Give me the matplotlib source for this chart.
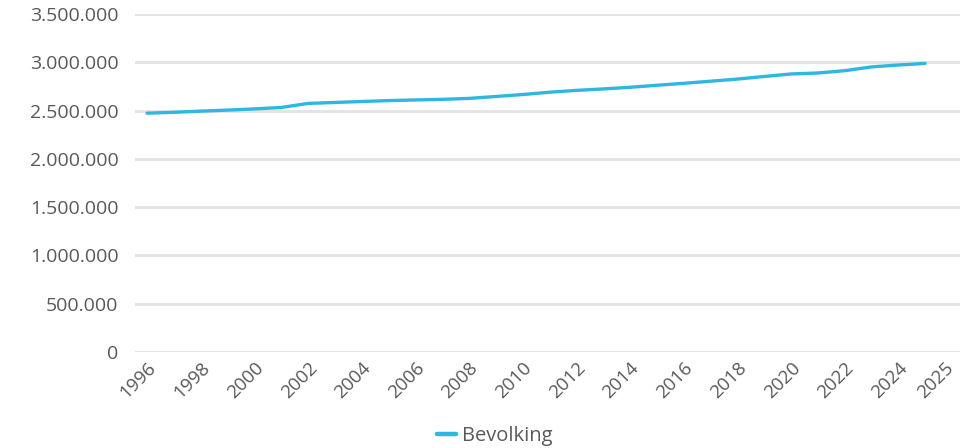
import matplotlib.pyplot as plt
import matplotlib.transforms as mtransforms
from matplotlib.ticker import FuncFormatter

plt.rcParams['font.family'] = ['Open Sans', 'DejaVu Sans']

# Bevolking per jaar (geschat uit de grafiek)
years = list(range(1996, 2026))
population = [2473000, 2482000, 2494000, 2505000, 2517000, 2532000, 2574000,
              2584000, 2594000, 2603000, 2610000, 2616000, 2626000, 2646000,
              2666000, 2690000, 2709000, 2724000, 2741000, 2762000, 2782000,
              2804000, 2826000, 2853000, 2879000, 2889000, 2913000, 2952000,
              2972000, 2988000]
tick_years = list(range(1996, 2025, 2)) + [2025]
y_ticks = list(range(0, 3500001, 500000))

fig = plt.figure(figsize=(9.6, 4.48), dpi=100)
ax = fig.add_axes([135 / 960, 1 - 352 / 448, 825 / 960, 338 / 448])

ax.plot(years, population, color='#2db7e1', linewidth=2.4,
        solid_capstyle='round', label='Bevolking', zorder=3)

ax.set_ylim(0, 3500000)
ax.set_xlim(1995.55, 2026.3)
ax.set_yticks(y_ticks)
ax.yaxis.set_major_formatter(FuncFormatter(lambda v, p: f'{int(v):,}'.replace(',', '.')))
ax.set_xticks(tick_years)
ax.set_xticklabels([str(y) for y in tick_years], rotation=45, ha='right',
                   rotation_mode='anchor')

ax.grid(axis='y', color='#e4e4e4', linewidth=2.2, zorder=0)
ax.set_axisbelow(True)
for s in ax.spines.values():
    s.set_visible(False)
ax.tick_params(length=0, colors='#595959')
ax.tick_params(axis='y', pad=12, labelsize=14)
ax.tick_params(axis='x', pad=5, labelsize=13.5)

# laatste label schuift iets op in het origineel
lbl = ax.get_xticklabels()[-1]
lbl.set_transform(lbl.get_transform() + mtransforms.ScaledTranslation(19 / 100, 0, fig.dpi_scale_trans))

leg = fig.legend(loc='lower center', bbox_to_anchor=(0.515, -0.035), frameon=False,
                 fontsize=14.5, handlelength=0.95, handletextpad=0.3)
for line in leg.get_lines():
    line.set_linewidth(3.2)
for t in leg.get_texts():
    t.set_color('#595959')

fig.savefig('out.png', dpi=100)
